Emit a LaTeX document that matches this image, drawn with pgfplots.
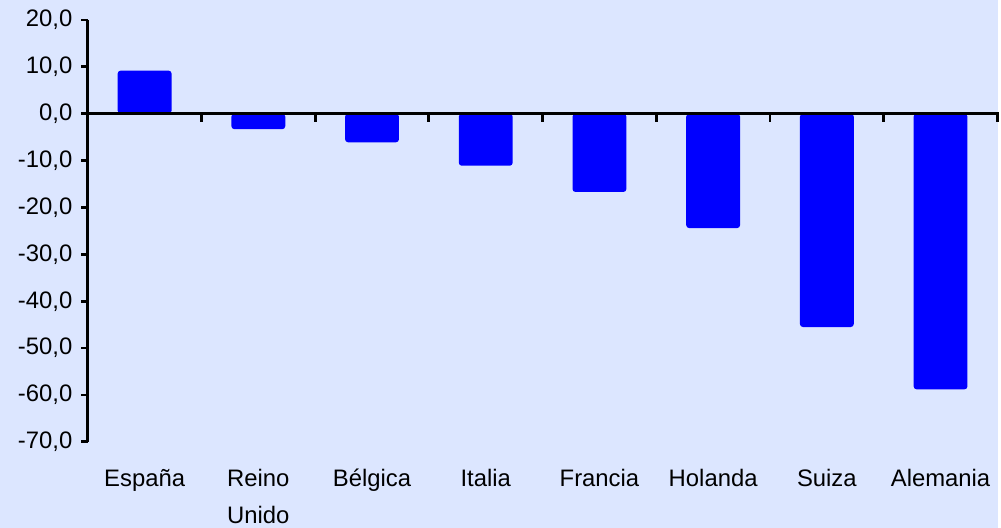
\documentclass[border=0pt]{standalone}
\usepackage{pgfplots}
\pgfplotsset{compat=1.18}
\usepackage{fontspec}
\setmainfont{Liberation Sans}
\definecolor{bgc}{RGB}{220,230,255}
\definecolor{barc}{RGB}{0,0,255}
\begin{document}
\begin{tikzpicture}
\fill[bgc] (-88bp,-86bp) rectangle (913bp,423bp+20bp);
\begin{axis}[
  at={(0,0)}, anchor=south west,
  scale only axis, width=912bp, height=423bp,
  xmin=-0.5, xmax=7.5, ymin=-70, ymax=20,
  axis y line*=left, axis x line*=middle,
  axis line style={draw=none},
  ytick={-70,-60,...,20},
  xtick=\empty,
  major tick length=0pt,
  yticklabel style={font=\fontsize{24}{28}\selectfont, anchor=east, xshift=-12bp},
  clip=false,
  /pgf/number format/.cd, fixed, fixed zerofill, precision=1, use comma, 1000 sep={}, assume math mode=true,
]
\addplot[ybar, bar width=54bp, fill=barc, draw=none, rounded corners=3bp] coordinates {
(0,9.2) (1,-3.3) (2,-6.1) (3,-11.1) (4,-16.7) (5,-24.4) (6,-45.5) (7,-58.8)};
\draw[line width=3.2bp] (axis cs:-0.5,-70) -- (axis cs:-0.5,20);
\draw[line width=3.2bp] (axis cs:-0.5,0) -- (axis cs:7.5,0) -- ++(2bp,0pt);
\pgfplotsinvokeforeach{-70,-60,...,20}{\draw[line width=2.8bp] (axis cs:-0.5,#1) -- ++(-7bp,0pt);}
\pgfplotsinvokeforeach{0.5,1.5,...,7.5}{\draw[line width=2.8bp] (axis cs:#1,0) -- ++(0pt,-8bp);}
\end{axis}
\begin{axis}[
  at={(0,0)}, anchor=south west,
  scale only axis, width=912bp, height=423bp,
  xmin=-0.5, xmax=7.5, ymin=-70, ymax=20,
  axis y line=none, axis x line*=bottom,
  x axis line style={draw=none},
  xtick={0,...,7},
  xticklabels={España,{Reino\\Unido},Bélgica,Italia,Francia,Holanda,Suiza,Alemania},
  major tick length=0pt,
  xticklabel style={font=\fontsize{24}{37}\selectfont, align=center, anchor=north, yshift=-24bp},
]
\addplot[draw=none] coordinates {(0,0)};
\end{axis}
\end{tikzpicture}
\end{document}
